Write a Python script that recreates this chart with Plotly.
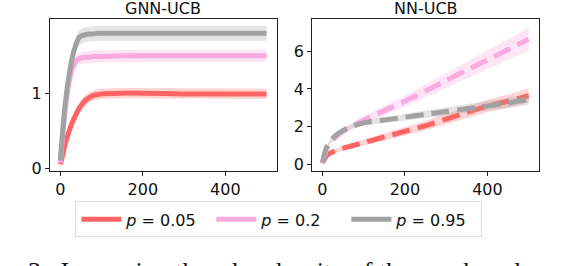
import plotly.graph_objects as go

# ---- data ----
x_gnn = [0, 5, 10, 15, 20, 25, 30, 35, 40, 45, 50, 60, 70, 80, 90, 100, 150, 200, 300, 400, 500]
gnn_p005 = [0.05, 0.15, 0.28, 0.38, 0.47, 0.55, 0.62, 0.68, 0.74, 0.79, 0.83, 0.90, 0.94, 0.97, 0.98, 0.99, 1.0, 1.0, 0.99, 0.99, 0.99]
gnn_p02 = [0.07, 0.40, 0.68, 0.92, 1.10, 1.24, 1.34, 1.40, 1.44, 1.46, 1.47, 1.48, 1.48, 1.49, 1.49, 1.49, 1.50, 1.50, 1.50, 1.50, 1.50]
gnn_p095 = [0.10, 0.45, 0.75, 1.00, 1.20, 1.36, 1.50, 1.60, 1.68, 1.74, 1.76, 1.78, 1.79, 1.79, 1.80, 1.80, 1.80, 1.80, 1.80, 1.80, 1.80]
gnn_sd005 = [0.02, 0.03, 0.04, 0.05, 0.05, 0.06, 0.06, 0.06, 0.07, 0.07, 0.07, 0.07, 0.07, 0.07, 0.07, 0.07, 0.07, 0.07, 0.07, 0.07, 0.07]
gnn_sd02 = [0.02, 0.04, 0.05, 0.06, 0.07, 0.07, 0.08, 0.08, 0.08, 0.08, 0.08, 0.08, 0.08, 0.08, 0.08, 0.08, 0.08, 0.08, 0.08, 0.08, 0.08]
gnn_sd095 = [0.02, 0.05, 0.06, 0.08, 0.09, 0.10, 0.10, 0.10, 0.10, 0.10, 0.10, 0.10, 0.10, 0.10, 0.10, 0.10, 0.10, 0.10, 0.10, 0.10, 0.10]

x_nn = [0, 10, 20, 30, 50, 70, 100, 150, 200, 250, 300, 350, 400, 450, 500]
nn_p005 = [0.05, 0.45, 0.60, 0.70, 0.85, 0.97, 1.15, 1.45, 1.75, 2.05, 2.40, 2.75, 3.10, 3.35, 3.65]
nn_p02 = [0.05, 0.80, 1.15, 1.40, 1.75, 2.00, 2.35, 2.85, 3.35, 3.90, 4.45, 5.00, 5.55, 6.10, 6.65]
nn_p095 = [0.10, 0.90, 1.25, 1.50, 1.80, 2.00, 2.20, 2.35, 2.50, 2.65, 2.80, 2.95, 3.10, 3.25, 3.45]
nn_sd005 = [0.03, 0.08, 0.10, 0.11, 0.13, 0.14, 0.16, 0.19, 0.22, 0.25, 0.28, 0.31, 0.33, 0.35, 0.37]
nn_sd02 = [0.03, 0.08, 0.10, 0.12, 0.14, 0.16, 0.19, 0.24, 0.29, 0.34, 0.40, 0.45, 0.50, 0.55, 0.60]
nn_sd095 = [0.03, 0.08, 0.10, 0.11, 0.12, 0.13, 0.14, 0.16, 0.18, 0.20, 0.22, 0.24, 0.26, 0.28, 0.30]

labels = ["<i>p</i> = 0.05", "<i>p</i> = 0.2", "<i>p</i> = 0.95"]
colors = ["#FF6464", "#F9AADF", "#A2A2A2"]
bands = ["rgba(255,100,100,0.28)", "rgba(249,170,223,0.30)", "rgba(162,162,162,0.28)"]
titles = ["GNN-UCB", "NN-UCB"]
xticks = [0, 200, 400]
yticks_left = [0, 1]
yticks_right = [0, 2, 4, 6]

caption = "3.&nbsp;&nbsp;Increasing the edge density of the graph and"

fig = go.Figure()

def add_panel(x, means, sds, xa, ya, dash, show):
    for i, (m, s) in enumerate(zip(means, sds)):
        lo = [a - b for a, b in zip(m, s)]
        hi = [a + b for a, b in zip(m, s)]
        fig.add_trace(go.Scatter(x=x, y=lo, mode="lines", line=dict(width=0, color=bands[i]),
                                 xaxis=xa, yaxis=ya, showlegend=False, hoverinfo="skip"))
        fig.add_trace(go.Scatter(x=x, y=hi, mode="lines", line=dict(width=0, color=bands[i]),
                                 fill="tonexty", fillcolor=bands[i],
                                 xaxis=xa, yaxis=ya, showlegend=False, hoverinfo="skip"))
        fig.add_trace(go.Scatter(x=x, y=m, mode="lines", name=labels[i],
                                 line=dict(width=5, color=colors[i], dash=dash, shape="spline", smoothing=0.6),
                                 xaxis=xa, yaxis=ya, showlegend=show))

add_panel(x_gnn, [gnn_p005, gnn_p02, gnn_p095], [gnn_sd005, gnn_sd02, gnn_sd095], "x", "y", "solid", True)
add_panel(x_nn, [nn_p005, nn_p02, nn_p095], [nn_sd005, nn_sd02, nn_sd095], "x2", "y2", "18px,8px", False)

axis_common = dict(showline=True, mirror=True, linecolor="#222", linewidth=1, ticks="outside",
                   ticklen=4, tickcolor="#222", showgrid=False, zeroline=False,
                   tickfont=dict(size=16, color="#111"))

fig.update_layout(
    width=574, height=266,
    margin=dict(l=50, r=35, t=19, b=95, autoexpand=False),
    paper_bgcolor="white", plot_bgcolor="white",
    font=dict(family="DejaVu Sans", size=16, color="#111"),
    xaxis=dict(domain=[0, 0.464], range=[-25, 525], tickvals=xticks, **axis_common),
    yaxis=dict(range=[-0.04, 1.99], tickvals=yticks_left, **axis_common),
    xaxis2=dict(domain=[0.536, 1], range=[-25, 525], tickvals=xticks, anchor="y2", **axis_common),
    yaxis2=dict(range=[-0.36, 7.72], tickvals=yticks_right, anchor="x2", **axis_common),
    legend=dict(orientation="h", x=0.468, xanchor="center", y=-0.2, yanchor="top",
                bordercolor="#dddddd", borderwidth=1, font=dict(size=16),
                traceorder="normal", entrywidth=80, itemwidth=40, tracegroupgap=0),
    annotations=[
        dict(text=titles[0], x=0.232, y=1.0, xref="paper", yref="paper", xanchor="center",
             yanchor="bottom", yshift=-1, showarrow=False, font=dict(size=16)),
        dict(text=titles[1], x=0.768, y=1.0, xref="paper", yref="paper", xanchor="center",
             yanchor="bottom", yshift=-1, showarrow=False, font=dict(size=16)),
        dict(text=caption, x=-0.05, y=-0.55, xref="paper", yref="paper", xanchor="left",
             yanchor="top", showarrow=False, font=dict(size=26, family="Liberation Serif", color="#111")),
    ],
)

fig.write_html("out.html", config={"displayModeBar": False},
               post_script="document.body.style.margin='0';document.body.style.overflow='hidden';")
